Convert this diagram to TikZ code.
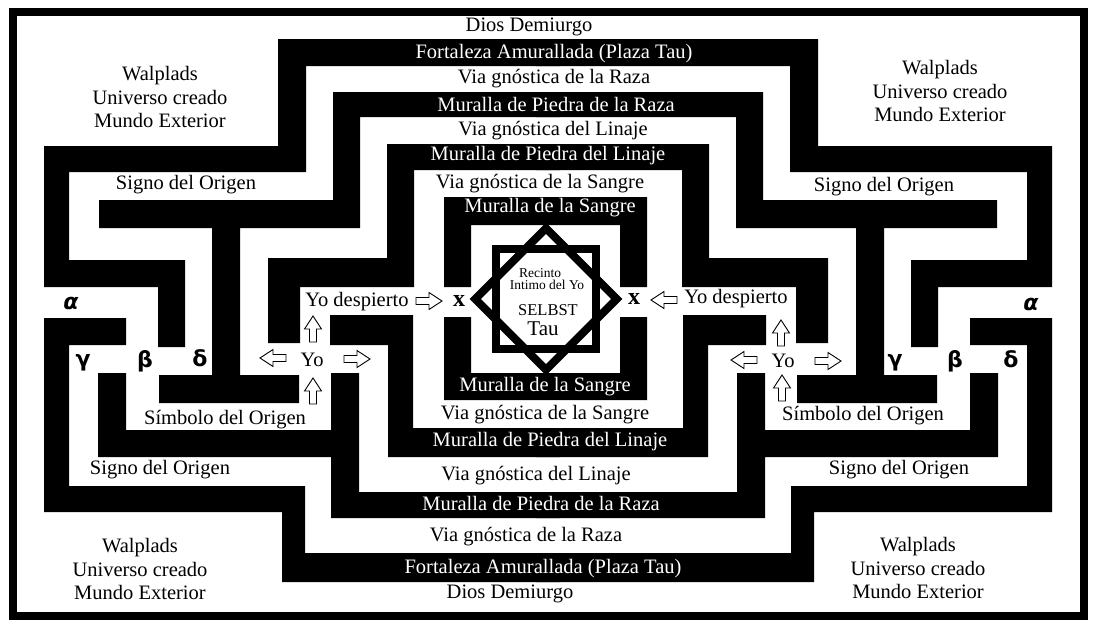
\documentclass[tikz,border=0pt]{standalone}
\usepackage{fontspec}
\setmainfont{Liberation Serif}
\newfontfamily\greekfont{DejaVu Sans}

\begin{document}
\begin{tikzpicture}[x=1pt, y=-1pt,
  wall/.style={fill=black, draw=none},
  lbl/.style={inner sep=0pt, font=\fontsize{20.5}{23.5}\selectfont},
  wlbl/.style={lbl, text=white},
  world/.style={lbl, align=center},
  greek/.style={inner sep=0pt, font=\fontsize{22}{24}\greekfont\bfseries},
  greekit/.style={inner sep=0pt, font=\fontsize{22}{24}\greekfont\bfseries\itshape},
  small/.style={inner sep=0pt, font=\fontsize{13.5}{15}\selectfont},
  hollow arrow/.pic={\draw[fill=white, line width=0.9pt] (-13,-3.5) -- (0,-3.5) -- (0,-8.5) -- (13,0) -- (0,8.5) -- (0,3.5) -- (-13,3.5) -- cycle;},
]
\useasboundingbox (0,0) rectangle (1108,638);

% Frame
\draw[line width=8pt] (13,12) rectangle (1084,616);

% Walls (left half, then mirrored)
\foreach \sx/\ox in {1/0, -1/1096}{
  \begin{scope}[shift={(\ox,0)}, xscale=\sx]
    % Fortaleza Amurallada
    \fill[wall] (278,39) -- (560,39) -- (560,66) -- (306,66) -- (306,172) -- (69,172) -- (69,260) -- (185,260)
      -- (185,347) -- (158,347) -- (158,287) -- (44,287) -- (44,146) -- (278,146) -- cycle;
    \fill[wall] (44,318) -- (126,318) -- (126,345) -- (69,345) -- (69,486) -- (305,486) -- (305,553)
      -- (560,553) -- (560,582) -- (282,582) -- (282,512) -- (44,512) -- cycle;
    % Muralla de Piedra de la Raza + Simbolo del Origen
    \fill[wall] (333,92) -- (560,92) -- (560,117) -- (360,117) -- (360,228) -- (240,228) -- (240,375) -- (299,375)
      -- (299,403) -- (159,403) -- (159,375) -- (212,375) -- (212,228) -- (99,228) -- (99,200) -- (333,200) -- cycle;
    \fill[wall] (98,373) -- (126,373) -- (126,430) -- (331,430) -- (331,373) -- (359,373) -- (359,492)
      -- (560,492) -- (560,518) -- (331,518) -- (331,457) -- (98,457) -- cycle;
    % Muralla de Piedra del Linaje
    \fill[wall] (387,144) -- (560,144) -- (560,170) -- (414,170) -- (414,287) -- (300,287) -- (300,343)
      -- (268,343) -- (268,258) -- (387,258) -- cycle;
    \fill[wall] (330,315) -- (413,315) -- (413,428) -- (560,428) -- (560,457) -- (388,457) -- (388,345)
      -- (330,345) -- cycle;
  \end{scope}
}

% Muralla de la Sangre
\fill[wall] (444,197) -- (647,197) -- (647,287) -- (620,287) -- (620,225) -- (471,225) -- (471,287) -- (444,287) -- cycle;
\fill[wall] (444,317) -- (471,317) -- (471,373) -- (620,373) -- (620,317) -- (647,317) -- (647,400) -- (444,400) -- cycle;

% Star
\draw[line width=8pt] (496,249) rectangle (596,349);
\draw[line width=8pt, rotate around={45:(546,299)}] (496,249) rectangle (596,349);
\node[small] (recinto) at (540,273) {Recinto};
\node[small] (intimo) at (547,285) {Intimo del Yo};
\node[inner sep=0pt, font=\fontsize{16.5}{18}\selectfont] (selbst) at (548,310) {SELBST};
\node[inner sep=0pt, font=\fontsize{21}{24}\selectfont] (tau) at (543,329) {Tau};

% Top labels
\node[lbl] (dios1) at (529,27) {Dios Demiurgo};
\node[wlbl] (fort1) at (554,54) {Fortaleza Amurallada (Plaza Tau)};
\node[lbl] (viaraza1) at (554,79) {Via gnóstica de la Raza};
\node[wlbl] (mraza1) at (556,104) {Muralla de Piedra de la Raza};
\node[lbl] (vialin1) at (553,131) {Via gnóstica del Linaje};
\node[wlbl] (mlin1) at (548,156) {Muralla de Piedra del Linaje};
\node[lbl] (viasan1) at (540,184) {Via gnóstica de la Sangre};
\node[wlbl] (msan1) at (550,208) {Muralla de la Sangre};

% Bottom labels
\node[wlbl] (msan2) at (545,387) {Muralla de la Sangre};
\node[lbl] (viasan2) at (545,415) {Via gnóstica de la Sangre};
\node[wlbl] (mlin2) at (550,442) {Muralla de Piedra del Linaje};
\node[lbl] (vialin2) at (536,476) {Via gnóstica del Linaje};
\node[wlbl] (mraza2) at (541,503) {Muralla de Piedra de la Raza};
\node[lbl] (viaraza2) at (526,537) {Via gnóstica de la Raza};
\node[wlbl] (fort2) at (543,569) {Fortaleza Amurallada (Plaza Tau)};
\node[lbl] (dios2) at (510,594) {Dios Demiurgo};

% Outer world
\node[world] (walpTL) at (160,97) {Walplads\\Universo creado\\Mundo Exterior};
\node[world] (walpTR) at (940,91) {Walplads\\Universo creado\\Mundo Exterior};
\node[world] (walpBL) at (140,569) {Walplads\\Universo creado\\Mundo Exterior};
\node[world] (walpBR) at (918,568) {Walplads\\Universo creado\\Mundo Exterior};

% Signo / Simbolo
\node[lbl] (signoTL) at (186,185) {Signo del Origen};
\node[lbl] (signoTR) at (884,187) {Signo del Origen};
\node[lbl] (signoBL) at (160,470) {Signo del Origen};
\node[lbl] (signoBR) at (899,470) {Signo del Origen};
\node[lbl] (simbL) at (225,420) {Símbolo del Origen};
\node[lbl] (simbR) at (863,416) {Símbolo del Origen};

% Yo despierto and gates
\node[lbl] (despL) at (357,302) {Yo despierto};
\node[lbl] (despR) at (736,299) {Yo despierto};
\node[inner sep=0pt, font=\fontsize{24}{26}\selectfont\bfseries] (xL) at (459,301) {x};
\node[inner sep=0pt, font=\fontsize{24}{26}\selectfont\bfseries] (xR) at (634,299) {x};
\pic at (429,301) {hollow arrow};
\pic[rotate=180] at (664,300) {hollow arrow};

% Yo (left)
\node[lbl] (yoL) at (312,360) {Yo};
\pic[rotate=180] at (273,358) {hollow arrow};
\pic at (357,359) {hollow arrow};
\pic[rotate=90] at (313,329) {hollow arrow};
\pic[rotate=90] at (313,391) {hollow arrow};

% Yo (right)
\node[lbl] (yoR) at (783,361) {Yo};
\pic[rotate=180] at (744,360) {hollow arrow};
\pic at (828,361) {hollow arrow};
\pic[rotate=90] at (781,333) {hollow arrow};
\pic[rotate=90] at (782,388) {hollow arrow};

% Greek letters
\node[greekit] (alphaL) at (71,303) {α};
\node[greek] (gammaL) at (83,363) {γ};
\node[greek] (betaL) at (145,361) {β};
\node[greek] (deltaL) at (200,358) {δ};
\node[greekit] (alphaR) at (1031,304) {α};
\node[greek] (gammaR) at (895,363) {γ};
\node[greek] (betaR) at (955,361) {β};
\node[greek] (deltaR) at (1011,359) {δ};
\end{tikzpicture}
\end{document}
